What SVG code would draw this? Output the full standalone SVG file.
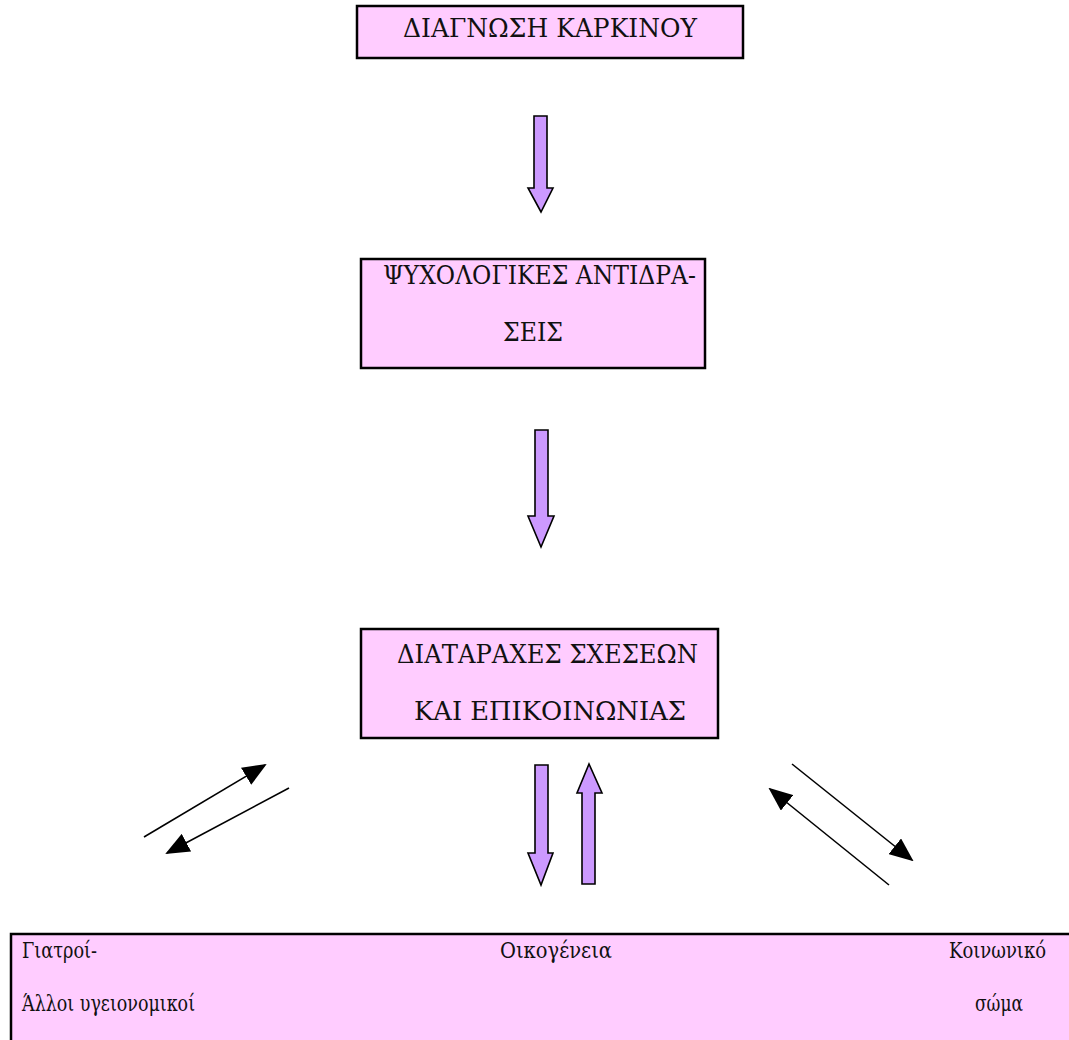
<svg xmlns="http://www.w3.org/2000/svg" width="1069" height="1040" viewBox="0 0 1069 1040">
  <style>
    .box { fill: #ffccff; stroke: #000; stroke-width: 2.5; }
    .edge { fill: none; stroke: #000; stroke-width: 2.5; }
    .cap { font-family: "DejaVu Serif", "Liberation Serif", serif; font-size: 26px; fill: #111; }
    .low { font-family: "DejaVu Serif", "Liberation Serif", serif; font-size: 23px; fill: #111; }
    .block { fill: #cc99ff; stroke: #000; stroke-width: 1.6; stroke-linejoin: miter; }
    .thin { stroke: #000; stroke-width: 1.6; fill: none; marker-end: url(#head); }
  </style>
  <defs>
    <marker id="head" viewBox="0 0 24 20" refX="22" refY="10" markerWidth="24" markerHeight="20" markerUnits="userSpaceOnUse" orient="auto">
      <path d="M0,0 L24,10 L0,20 Z" fill="#000"/>
    </marker>
  </defs>

  <rect width="1069" height="1040" fill="#fff"/>

  <!-- Diagnosis -->
  <g id="diagnosis">
    <rect class="box" x="357" y="6" width="386" height="52"/>
    <text class="cap" x="403" y="37" textLength="294" lengthAdjust="spacingAndGlyphs">ΔΙΑΓΝΩΣΗ ΚΑΡΚΙΝΟΥ</text>
  </g>

  <!-- Psychological reactions -->
  <g id="reactions">
    <rect class="box" x="361" y="259" width="344" height="109"/>
    <text class="cap" x="383" y="284" textLength="313" lengthAdjust="spacingAndGlyphs">ΨΥΧΟΛΟΓΙΚΕΣ ΑΝΤΙΔΡΑ-</text>
    <text class="cap" x="503" y="341" textLength="60" lengthAdjust="spacingAndGlyphs">ΣΕΙΣ</text>
  </g>

  <!-- Relationship and communication disorders -->
  <g id="disorders">
    <rect class="box" x="361" y="629" width="357" height="109"/>
    <text class="cap" x="397" y="663" textLength="301" lengthAdjust="spacingAndGlyphs">ΔΙΑΤΑΡΑΧΕΣ ΣΧΕΣΕΩΝ</text>
    <text class="cap" x="414" y="720" textLength="272" lengthAdjust="spacingAndGlyphs">ΚΑΙ ΕΠΙΚΟΙΝΩΝΙΑΣ</text>
  </g>

  <!-- Surroundings: doctors, family, society (box runs off the page at right and bottom) -->
  <g id="surroundings">
    <rect x="11" y="934" width="1058" height="106" fill="#ffccff"/>
    <path class="edge" d="M11,1040 V934 H1069"/>
    <text class="low" x="22" y="958" textLength="75" lengthAdjust="spacingAndGlyphs">Γιατροί-</text>
    <text class="low" x="22" y="1011" textLength="173" lengthAdjust="spacingAndGlyphs">Άλλοι υγειονομικοί</text>
    <text class="low" x="500" y="958" textLength="112" lengthAdjust="spacingAndGlyphs">Οικογένεια</text>
    <text class="low" x="949" y="958" textLength="97" lengthAdjust="spacingAndGlyphs">Κοινωνικό</text>
    <text class="low" x="975" y="1011" textLength="48" lengthAdjust="spacingAndGlyphs">σώμα</text>
  </g>

  <!-- Connectors -->
  <g id="connectors">
    <path class="block" d="M534,116 H547 V188 H553 L541,212 L528,188 H534 Z"/>
    <path class="block" d="M535,430 H548 V516 H554 L541,547 L528,516 H535 Z"/>
    <path class="block" d="M535,765 H548 V853 H553 L541,885 L528,853 H535 Z"/>
    <path class="block" d="M582,884 H595 V793 H602 L589,764 L577,793 H582 Z"/>

    <line class="thin" x1="144" y1="837" x2="265" y2="765"/>
    <line class="thin" x1="289" y1="788" x2="167" y2="853"/>
    <line class="thin" x1="792" y1="764" x2="912" y2="860"/>
    <line class="thin" x1="889" y1="885" x2="770" y2="789"/>
  </g>
</svg>
